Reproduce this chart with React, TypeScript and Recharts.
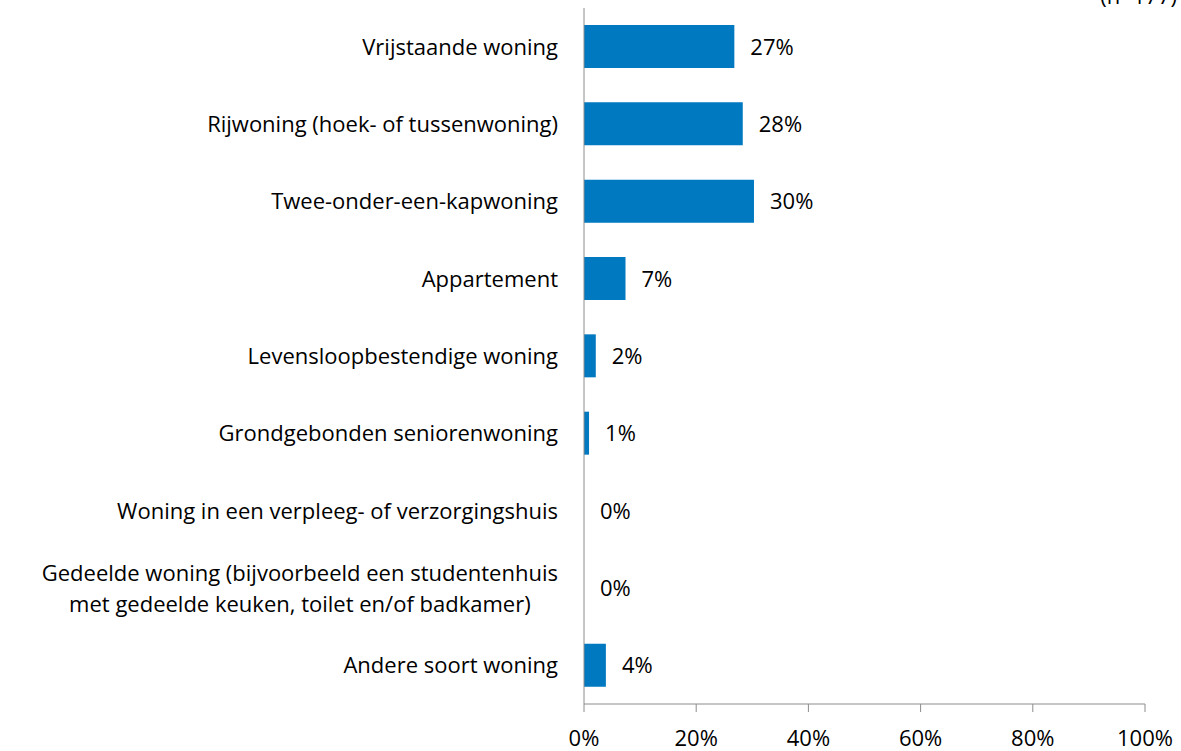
import React from 'react';
import { ComposedChart, Bar, Scatter, XAxis, YAxis } from 'recharts';

const categories = [
    'Vrijstaande woning',
    'Rijwoning (hoek- of tussenwoning)',
    'Twee-onder-een-kapwoning',
    'Appartement',
    'Levensloopbestendige woning',
    'Grondgebonden seniorenwoning',
    'Woning in een verpleeg- of verzorgingshuis',
    'Gedeelde woning (bijvoorbeeld een studentenhuis\nmet gedeelde keuken, toilet en/of badkamer)',
    'Andere soort woning',
];
const shares = [0.268, 0.283, 0.303, 0.074, 0.021, 0.009, 0, 0, 0.039];
const xTicks = [0, 0.2, 0.4, 0.6, 0.8, 1];
const sampleNote = '(n=177)';

const FONT = '"Open Sans", Lato, sans-serif';
const FONT_SIZE = 22;
const BLUE = '#0079c1';
const AXIS = '#8c8c8c';

const data = categories.map((name, i) => ({ name, value: shares[i] }));

const pct = (v: number) => `${Math.round(v * 100)}%`;

let measureCtx: CanvasRenderingContext2D | null = null;
function textWidth(s: string): number {
    if (!measureCtx) measureCtx = document.createElement('canvas').getContext('2d');
    if (!measureCtx) return s.length * 10;
    measureCtx.font = `${FONT_SIZE}px ${FONT}`;
    return measureCtx.measureText(s).width;
}

// multi-line labels are centred on their widest line, single lines right aligned
function CategoryTick(props: any) {
    const { x, y, payload } = props;
    const lines = String(payload.value).split('\n');
    if (lines.length === 1) {
        return (
            <text x={x} y={y} dy={8} textAnchor="end" fontSize={FONT_SIZE} fontFamily={FONT} fill="#000">
                {lines[0]}
            </text>
        );
    }
    const w = Math.max(...lines.map(textWidth));
    const cx = x - w / 2;
    const lh = 31;
    const top = y - ((lines.length - 1) * lh) / 2;
    return (
        <text textAnchor="middle" fontSize={FONT_SIZE} fontFamily={FONT} fill="#000">
            {lines.map((l, i) => (
                <tspan key={i} x={cx} y={top + i * lh} dy={8}>{l}</tspan>
            ))}
        </text>
    );
}

// value label just right of the bar end (drawn by a point series so 0% rows get one too)
function ValueLabel(props: any) {
    const { cx, cy, payload } = props;
    if (cx == null || cy == null) return null;
    return (
        <text x={cx + 16} y={cy} dy={8} fontSize={FONT_SIZE} fontFamily={FONT} fill="#000">
            {pct(Number(payload.value))}
        </text>
    );
}

export default function App() {
    return (
        <div style={{ position: 'absolute', left: 0, top: 0, width: 1181, height: 751, overflow: 'hidden', background: '#fff' }}>
            <span
                style={{
                    position: 'absolute', right: 4, top: -17,
                    fontFamily: FONT, fontSize: FONT_SIZE, color: '#000', lineHeight: '24px',
                }}
            >
                {sampleNote}
            </span>
            <ComposedChart
                width={1181}
                height={751}
                data={data}
                layout="vertical"
                margin={{ top: 8, right: 36, bottom: 17, left: 0 }}
            >
                <XAxis
                    type="number"
                    dataKey="value"
                    domain={[0, 1]}
                    ticks={xTicks}
                    tickFormatter={pct}
                    stroke={AXIS}
                    tickSize={8}
                    tickMargin={18}
                    tick={{ fontSize: FONT_SIZE, fontFamily: FONT, fill: '#000' }}
                    interval={0}
                />
                <YAxis
                    type="category"
                    dataKey="name"
                    width={584}
                    stroke={AXIS}
                    tickLine={false}
                    tickSize={0}
                    tickMargin={26}
                    tick={<CategoryTick />}
                    interval={0}
                />
                <Bar dataKey="value" fill={BLUE} barSize={43} isAnimationActive={false} />
                <Scatter dataKey="value" shape={<ValueLabel />} isAnimationActive={false} />
            </ComposedChart>
        </div>
    );
}
